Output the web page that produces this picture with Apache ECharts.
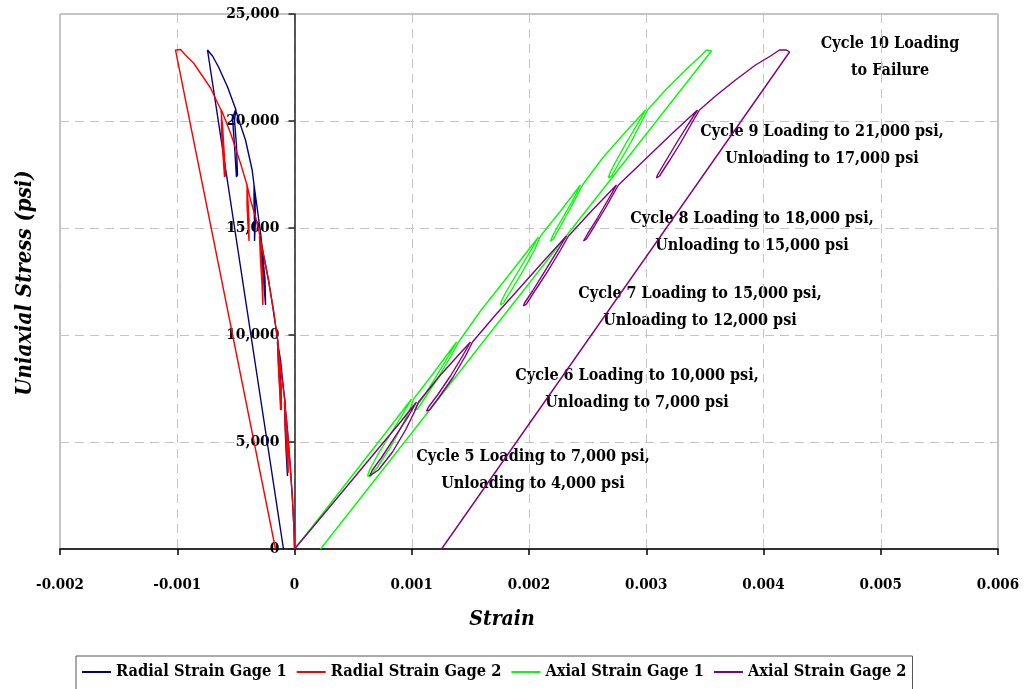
<!DOCTYPE html>
<html><head><meta charset="utf-8">
<script src="https://cdn.jsdelivr.net/npm/echarts@6/dist/echarts.min.js"></script>
<style>html,body{margin:0;padding:0;background:#fff}#c{width:1024px;height:689px}</style>
</head><body><div id="c"></div>
<script>
const seriesNames = ['Radial Strain Gage 1', 'Radial Strain Gage 2', 'Axial Strain Gage 1', 'Axial Strain Gage 2'];
const seriesColors = ['#000080', '#ff0000', '#00ff00', '#800080'];

// [strain, stress (psi)]
const radialGage1 = [
[0,0],[-0.000004,888],[-0.000017,2290],[-0.000034,3692],[-0.000047,4626],[-0.000060,5561],[-0.000077,6495],[-0.000085,6869],
[-0.000081,5794],[-0.000072,4626],[-0.000060,3411],[-0.000051,3458],[-0.000060,4860],[-0.000072,6121],[-0.000081,6869],
[-0.000102,7897],[-0.000119,8832],[-0.000145,9673],
[-0.000136,8598],[-0.000124,7430],[-0.000115,6495],[-0.000107,6542],[-0.000115,7664],[-0.000132,8832],[-0.000141,9673],
[-0.000188,11402],[-0.000222,12570],[-0.000264,13738],[-0.000290,14626],
[-0.000277,13505],[-0.000260,12336],[-0.000247,11402],[-0.000239,11495],[-0.000252,12664],[-0.000273,13738],[-0.000286,14626],
[-0.000316,15841],[-0.000345,17009],
[-0.000345,16075],[-0.000341,15140],[-0.000341,14393],[-0.000333,14439],[-0.000333,15374],[-0.000337,16308],[-0.000345,17009],
[-0.000361,17710],[-0.000418,19112],[-0.000469,19953],[-0.000503,20514],
[-0.000529,20140],[-0.000512,18878],[-0.000495,17383],[-0.000486,17477],[-0.000495,18878],[-0.000512,20047],[-0.000499,20514],
[-0.000571,21589],[-0.000648,22523],[-0.000699,23037],[-0.000742,23318],
[-0.000094,0]
];
const radialGage2 = [
[0,0],[-0.000004,888],[-0.000017,2290],[-0.000034,3692],[-0.000051,4860],[-0.000068,6028],[-0.000085,6869],
[-0.000077,5561],[-0.000064,4393],[-0.000054,3551],[-0.000045,3598],[-0.000055,4626],[-0.000072,5794],[-0.000081,6869],
[-0.000111,8131],[-0.000145,9673],
[-0.000136,8365],[-0.000124,7196],[-0.000119,6495],[-0.000111,6589],[-0.000119,7664],[-0.000136,8832],[-0.000141,9673],
[-0.000179,11168],[-0.000222,12570],[-0.000264,13738],[-0.000299,14626],
[-0.000290,13505],[-0.000277,12336],[-0.000270,11402],[-0.000262,11495],[-0.000269,12570],[-0.000286,13738],[-0.000295,14626],
[-0.000318,15234],[-0.000375,16308],[-0.000405,17009],
[-0.000405,16075],[-0.000397,15140],[-0.000388,14393],[-0.000380,14486],[-0.000388,15374],[-0.000397,16308],[-0.000405,17009],
[-0.000461,18037],[-0.000546,19439],[-0.000623,20514],
[-0.000623,19580],[-0.000610,18411],[-0.000597,17383],[-0.000588,17477],[-0.000601,18645],[-0.000614,19813],[-0.000627,20514],
[-0.000716,21542],[-0.000861,22710],[-0.000930,23084],[-0.000972,23341],[-0.001015,23318],
[-0.000162,0]
];
const axialGage1 = [
[0,0],[0.000136,935],[0.000350,2430],[0.000563,3925],[0.000776,5421],[0.000998,7009],
[0.000930,6355],[0.000819,5374],[0.000708,4393],[0.000640,3692],[0.000623,3411],[0.000648,3411],[0.000708,3832],[0.000819,4766],[0.000921,5794],[0.000989,6589],[0.001015,7009],
[0.001160,8037],[0.001382,9673],
[0.001313,9019],[0.001211,8084],[0.001109,7196],[0.001041,6682],[0.001023,6495],[0.001049,6542],[0.001117,7103],[0.001228,8037],[0.001330,8972],[0.001399,9673],
[0.001586,11122],[0.001842,12897],[0.002081,14579],
[0.002013,13925],[0.001910,12991],[0.001808,12056],[0.001765,11589],[0.001757,11402],[0.001783,11495],[0.001851,12103],[0.001953,13037],[0.002047,13972],[0.002098,14626],
[0.002269,15794],[0.002439,17009],
[0.002380,16355],[0.002286,15467],[0.002209,14720],[0.002183,14393],[0.002209,14486],[0.002269,15093],[0.002354,15935],[0.002422,16636],[0.002456,17009],
[0.002627,18271],[0.002823,19486],[0.002994,20514],
[0.002925,19860],[0.002823,18925],[0.002729,17991],[0.002687,17523],[0.002678,17336],[0.002704,17430],[0.002772,18084],[0.002866,18972],[0.002959,19953],[0.003011,20514],
[0.003164,21449],[0.003335,22383],[0.003463,23037],[0.003514,23318],[0.003556,23271],[0.003565,23178],
[0.000222,0]
];
const axialGage2 = [
[0,0],[0.000136,888],[0.000307,2009],[0.000520,3411],[0.000733,4813],[0.000904,5935],[0.001041,6869],
[0.000972,6215],[0.000861,5280],[0.000751,4346],[0.000665,3692],[0.000640,3411],[0.000657,3364],[0.000716,3692],[0.000836,4533],[0.000947,5561],[0.001023,6402],[0.001058,6869],
[0.001245,8131],[0.001399,9065],[0.001501,9673],
[0.001433,9019],[0.001330,8084],[0.001220,7196],[0.001143,6636],[0.001126,6449],[0.001151,6495],[0.001228,7056],[0.001348,7991],[0.001458,9019],[0.001518,9673],
[0.001714,10935],[0.001928,12243],[0.002141,13551],[0.002320,14626],
[0.002252,14019],[0.002141,13037],[0.002030,12056],[0.001962,11495],[0.001953,11355],[0.001979,11449],[0.002055,12103],[0.002166,13037],[0.002269,13972],[0.002337,14626],
[0.002525,15748],[0.002746,17009],
[0.002678,16355],[0.002584,15467],[0.002499,14720],[0.002465,14393],[0.002490,14486],[0.002559,15093],[0.002652,15935],[0.002729,16682],[0.002763,17009],
[0.002994,18224],[0.003207,19346],[0.003437,20514],
[0.003360,19860],[0.003258,18972],[0.003156,18037],[0.003096,17477],[0.003087,17336],[0.003113,17430],[0.003190,18084],[0.003292,18972],[0.003394,19953],[0.003454,20514],
[0.003591,21168],[0.003761,21916],[0.003932,22617],[0.004060,23037],[0.004136,23318],[0.004196,23318],[0.004222,23224],
[0.001254,0]
];

const annotationLines = [
  ['Cycle 10 Loading', 'to Failure'],
  ['Cycle 9 Loading to 21,000 psi,', 'Unloading to 17,000 psi'],
  ['Cycle 8 Loading to 18,000 psi,', 'Unloading to 15,000 psi'],
  ['Cycle 7 Loading to 15,000 psi,', 'Unloading to 12,000 psi'],
  ['Cycle 6 Loading to 10,000 psi,', 'Unloading to 7,000 psi'],
  ['Cycle 5 Loading to 7,000 psi,', 'Unloading to 4,000 psi']
];
const xTitle = 'Strain';
const yTitle = 'Uniaxial Stress (psi)';

const FONT = '"DejaVu Serif Condensed", "DejaVu Serif", serif';
const allData = [radialGage1, radialGage2, axialGage1, axialGage2];

// layout (pixel) positions of annotation blocks: [centerX, firstLineY]
const annPos = [[890, 44], [822, 132], [752, 219], [700, 294], [637, 376], [533, 457]];

const GRID = { left: 60, right: 26, top: 14, bottom: 140 };
const XMIN = -0.002, XMAX = 0.006;
const plotW = 1024 - GRID.left - GRID.right;
const yAxisOffset = -plotW * (0 - XMIN) / (XMAX - XMIN); // put the y axis at strain 0

const graphics = [];
annotationLines.forEach((lines, i) => {
  lines.forEach((t, j) => {
    graphics.push({
      type: 'text', silent: true,
      x: annPos[i][0], y: annPos[i][1] + j * 27,
      style: { text: t, font: 'bold 16px ' + FONT, fill: '#000',
        textAlign: 'center', textVerticalAlign: 'middle', align: 'center', verticalAlign: 'middle' }
    });
  });
});
graphics.push({
  type: 'text', silent: true, x: 502, y: 620,
  style: { text: xTitle, font: 'italic bold 21px ' + FONT, fill: '#000',
    textAlign: 'center', textVerticalAlign: 'middle', align: 'center', verticalAlign: 'middle' }
});
graphics.push({
  type: 'text', silent: true, x: 25, y: 283, rotation: Math.PI / 2,
  style: { text: yTitle, font: 'italic bold 22px ' + FONT, fill: '#000',
    textAlign: 'center', textVerticalAlign: 'middle', align: 'center', verticalAlign: 'middle' }
});

const chart = echarts.init(document.getElementById('c'), null, { renderer: 'canvas' });
chart.setOption({
  animation: false,
  backgroundColor: '#fff',
  grid: Object.assign({ show: true, borderColor: '#8a8a8a', borderWidth: 1, backgroundColor: 'transparent',
    containLabel: false, outerBoundsMode: 'none' }, GRID),
  xAxis: {
    type: 'value', min: XMIN, max: XMAX, interval: 0.001,
    axisLine: { onZero: false, lineStyle: { color: '#000', width: 1.5 } },
    axisTick: { show: true, length: 6, lineStyle: { color: '#000', width: 1.5 } },
    axisLabel: { margin: 29, color: '#000', fontFamily: FONT, fontWeight: 'bold', fontSize: 15,
      formatter: v => Math.abs(v) < 1e-9 ? '0' : v.toFixed(3) },
    splitLine: { show: true, lineStyle: { color: '#c4c4c4', type: [9, 6], width: 1 } }
  },
  yAxis: {
    type: 'value', min: 0, max: 25000, interval: 5000,
    position: 'left', offset: yAxisOffset,
    axisLine: { show: true, onZero: false, lineStyle: { color: '#222', width: 1.5 } },
    axisTick: { show: true, length: 6, lineStyle: { color: '#222', width: 1.5 } },
    axisLabel: { margin: 15, color: '#000', fontFamily: FONT, fontWeight: 'bold', fontSize: 15.5,
      formatter: v => v.toLocaleString('en-US') },
    splitLine: { show: true, lineStyle: { color: '#c4c4c4', type: [9, 6], width: 1 } }
  },
  legend: {
    left: 76, top: 656, orient: 'horizontal',
    icon: 'rect', itemWidth: 29, itemHeight: 2, itemGap: 10,
    padding: [8, 6, 22, 6],
    borderColor: '#555', borderWidth: 1, backgroundColor: '#fff',
    textStyle: { fontFamily: FONT, fontWeight: 'bold', fontSize: 16.3, color: '#000' },
    data: seriesNames
  },
  series: seriesNames.map((n, i) => ({
    name: n, type: 'line', data: allData[i],
    showSymbol: false, symbol: 'none', smooth: false,
    lineStyle: { color: seriesColors[i], width: 1.4 },
    itemStyle: { color: seriesColors[i] },
    z: 2 + i
  })),
  graphic: graphics
});
</script>
</body></html>
